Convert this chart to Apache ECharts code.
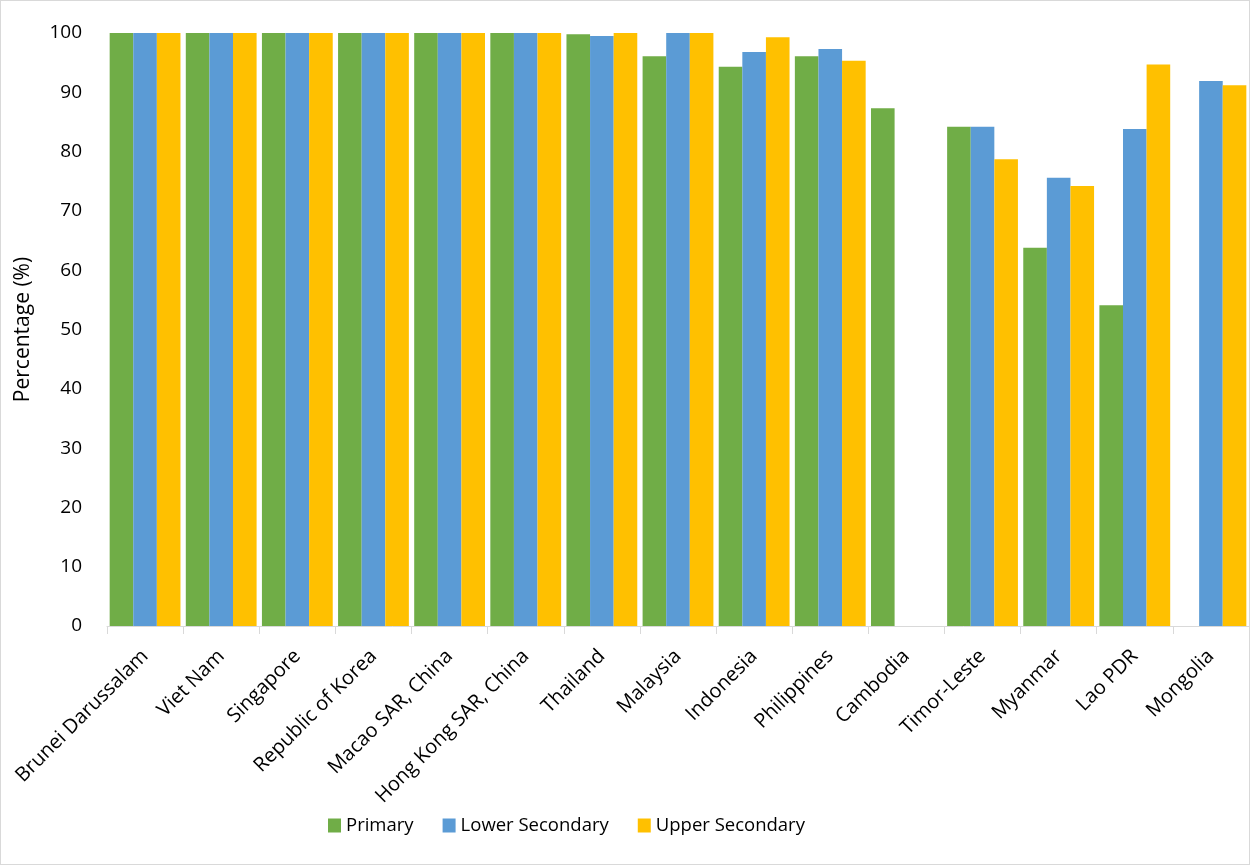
<!DOCTYPE html>
<html><head><meta charset="utf-8">
<script src="https://cdn.jsdelivr.net/npm/echarts@6/dist/echarts.min.js"></script>
<style>html,body{margin:0;padding:0;background:#fff}#c{width:1250px;height:865px;box-sizing:border-box;border:1px solid #d9d9d9}</style>
</head><body><div id="c"></div>
<script>
const categories = ["Brunei Darussalam","Viet Nam","Singapore","Republic of Korea","Macao SAR, China","Hong Kong SAR, China","Thailand","Malaysia","Indonesia","Philippines","Cambodia","Timor-Leste","Myanmar","Lao PDR","Mongolia"];
const primary = [100,100,100,100,100,100,99.8,96.1,94.3,96.1,87.3,84.2,63.8,54.1,null];
const lowerSecondary = [100,100,100,100,100,100,99.5,100,96.8,97.3,null,84.2,75.6,83.8,91.9];
const upperSecondary = [100,100,100,100,100,100,100,100,99.3,95.3,null,78.7,74.2,94.7,91.2];
const seriesNames = ["Primary","Lower Secondary","Upper Secondary"];
const colors = ["#70AD47","#5B9BD5","#FFC000"];
const font = "'Open Sans', 'Liberation Sans', sans-serif";
const chart = echarts.init(document.getElementById('c'));
chart.setOption({
  animation:false,
  textStyle:{fontFamily:font,color:'#000'},
  color:colors,
  grid:{left:106,right:0,top:32,bottom:238,containLabel:false,outerBoundsMode:'none'},
  legend:{bottom:24,left:322,itemWidth:13,itemHeight:14,itemGap:29,icon:'rect',
    textStyle:{fontSize:18.5,fontFamily:font,color:'#000'},data:seriesNames},
  xAxis:{type:'category',data:categories,
    axisLine:{lineStyle:{color:'#d9d9d9'}},
    axisTick:{show:true,alignWithLabel:false,length:8,lineStyle:{color:'#d9d9d9'}},
    axisLabel:{rotate:45,interval:0,fontSize:20,color:'#000',fontFamily:font,margin:27}},
  yAxis:{type:'value',min:0,max:100,interval:10,
    name:'Percentage (%)',nameLocation:'middle',nameGap:73,nameRotate:90,
    nameTextStyle:{fontSize:21,color:'#000',fontFamily:font},
    axisLine:{show:false},axisTick:{show:false},splitLine:{show:false},
    axisLabel:{fontSize:19,color:'#000',fontFamily:font,margin:25}},
  series:[
    {name:seriesNames[0],type:'bar',data:primary,barGap:'0%',barCategoryGap:'7%'},
    {name:seriesNames[1],type:'bar',data:lowerSecondary,barGap:'0%',barCategoryGap:'7%'},
    {name:seriesNames[2],type:'bar',data:upperSecondary,barGap:'0%',barCategoryGap:'7%'}
  ]
});
</script></body></html>
